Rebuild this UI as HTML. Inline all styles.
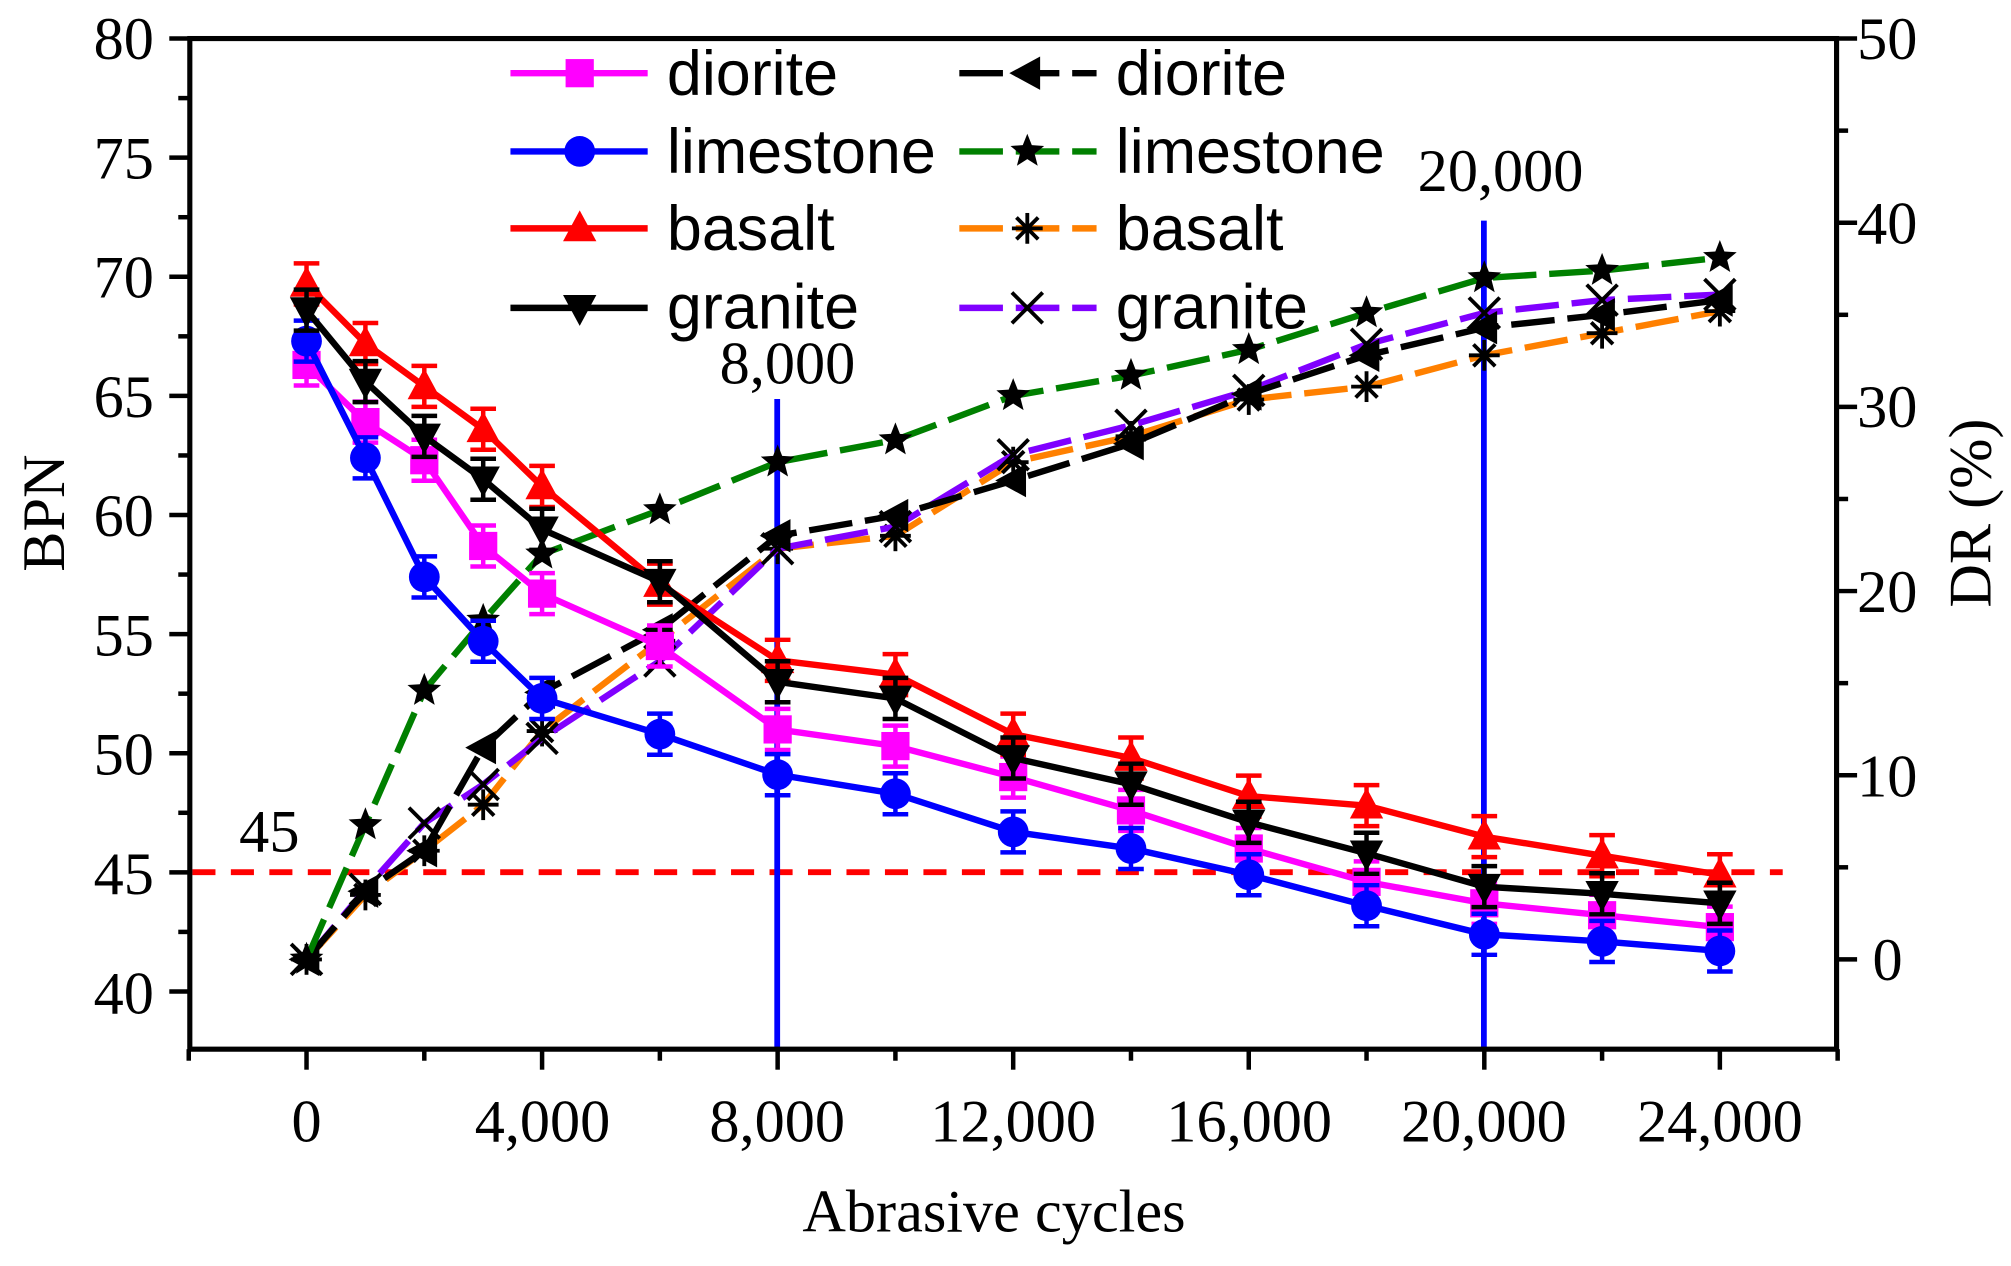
<!DOCTYPE html>
<html><head><meta charset="utf-8"><style>
html,body{margin:0;padding:0;background:#fff;}
svg{display:block;}
.t{font-family:"Liberation Serif",serif;font-size:47px;fill:#000;}
.l{font-family:"Liberation Sans",sans-serif;font-size:49px;fill:#000;}
</style></head><body>
<svg id="s" width="2011" height="1266" viewBox="0 0 1568 987" xmlns="http://www.w3.org/2000/svg">
<rect width="1568" height="987" fill="#fff"/>
<g id="g"></g>
<g class="t" text-anchor="end">
<text x="120" y="46">80</text><text x="120" y="139">75</text><text x="120" y="232">70</text>
<text x="120" y="325">65</text><text x="120" y="418">60</text><text x="120" y="511">55</text>
<text x="120" y="604">50</text><text x="120" y="697">45</text><text x="120" y="790">40</text>
</g>
<g class="t" text-anchor="start">
<text x="1448" y="46">50</text><text x="1448" y="190">40</text><text x="1448" y="333">30</text>
<text x="1448" y="477">20</text><text x="1448" y="621">10</text><text x="1460" y="764">0</text>
</g>
<g class="t" text-anchor="middle">
<text x="239" y="890">0</text><text x="423" y="890">4,000</text><text x="606" y="890">8,000</text>
<text x="790" y="890">12,000</text><text x="974" y="890">16,000</text><text x="1157" y="890">20,000</text>
<text x="1341" y="890">24,000</text>
<text x="775" y="960">Abrasive cycles</text>
<text x="614" y="299">8,000</text>
<text x="1170" y="149">20,000</text>
<text x="210" y="664">45</text>
<text transform="translate(50,400) rotate(-90)">BPN</text>
<text transform="translate(1552,400) rotate(-90)">DR (%)</text>
</g>
<g class="l">
<text x="520" y="74">diorite</text><text x="520" y="135">limestone</text>
<text x="520" y="195">basalt</text><text x="520" y="256">granite</text>
<text x="870" y="74">diorite</text><text x="870" y="135">limestone</text>
<text x="870" y="195">basalt</text><text x="870" y="256">granite</text>
</g>
</svg>
<script>
var g=document.getElementById('g'),NS='http://www.w3.org/2000/svg';
function el(t,a){var e=document.createElementNS(NS,t);for(var k in a)e.setAttribute(k,a[k]);g.appendChild(e);return e;}
var X=[0,1000,2000,3000,4000,6000,8000,10000,12000,14000,16000,18000,20000,22000,24000];
function px(x){return 239+x*1102/24000;}
function yl(v){return 773-(v-40)*18.575;}
function yr(v){return 748-v*14.36;}
el('line',{x1:150,y1:680,x2:1390,y2:680,stroke:'#f00','stroke-width':4.5,'stroke-dasharray':'18,12'});
el('line',{x1:606,y1:311,x2:606,y2:818,stroke:'#00f','stroke-width':4.5});
el('line',{x1:1157,y1:172,x2:1157,y2:818,stroke:'#00f','stroke-width':4.5});
function marker(type,x,y,c,s){s=s||12;
 if(type=='sq')el('rect',{x:x-s+1,y:y-s+1,width:2*s-2,height:2*s-2,fill:c});
 else if(type=='ci')el('circle',{cx:x,cy:y,r:s,fill:c});
 else if(type=='tu')el('polygon',{points:[x,y-s-2,x-s-1,y+s-2,x+s+1,y+s-2].join(','),fill:c});
 else if(type=='td')el('polygon',{points:[x,y+s+2,x-s-1,y-s+2,x+s+1,y-s+2].join(','),fill:c});
 else if(type=='tl')el('polygon',{points:[x-s-2,y,x+s-2,y-s-1,x+s-2,y+s+1].join(','),fill:c});
 else if(type=='st'){var p=[];for(var i=0;i<10;i++){var r=i%2?s*0.5:s*1.15,a=-Math.PI/2+i*Math.PI/5;p.push(x+r*Math.cos(a),y+r*Math.sin(a));}el('polygon',{points:p.join(','),fill:c});}
 else if(type=='as'){for(var i=0;i<4;i++){var a=i*Math.PI/4;el('line',{x1:x-s*Math.cos(a),y1:y-s*Math.sin(a),x2:x+s*Math.cos(a),y2:y+s*Math.sin(a),stroke:c,'stroke-width':3});}}
 else if(type=='x'){el('line',{x1:x-s,y1:y-s,x2:x+s,y2:y+s,stroke:c,'stroke-width':3});el('line',{x1:x-s,y1:y+s,x2:x+s,y2:y-s,stroke:c,'stroke-width':3});}
}
function series(vals,f,col,mk,mc,dash,err){
 var pts=vals.map(function(v,i){return [px(X[i]),f(v)];});
 el('polyline',{points:pts.map(function(p){return p.join(',')}).join(' '),fill:'none',stroke:col,'stroke-width':5,'stroke-dasharray':dash||'none'});
 pts.forEach(function(p){
  if(err){var e=16;el('line',{x1:p[0],y1:p[1]-e,x2:p[0],y2:p[1]+e,stroke:col,'stroke-width':3.5});
   el('line',{x1:p[0]-10,y1:p[1]-e,x2:p[0]+10,y2:p[1]-e,stroke:col,'stroke-width':3.5});
   el('line',{x1:p[0]-10,y1:p[1]+e,x2:p[0]+10,y2:p[1]+e,stroke:col,'stroke-width':3.5});}
  marker(mk,p[0],p[1],mc);
 });
}
series([0,3.5,5.9,8.4,12.4,17.3,22.3,23,27,28.4,30.4,31.1,32.8,34,35.2],yr,'#ff8000','as','#000','34,10');
series([0,3.8,7.4,9.5,12,16.2,22.3,23.5,27.4,29,30.9,33.4,35.1,35.8,36.1],yr,'#8000ff','x','#000','34,10');
series([0,3.7,5.9,11.5,14.5,17.9,23,24.1,26,28,30.7,32.8,34.3,35,35.8],yr,'#000','tl','#000','34,10');
series([0,7.3,14.6,18.4,22,24.4,27,28.2,30.6,31.7,33.1,35.1,37,37.4,38.1],yr,'#008000','st','#000','34,10');
series([66.3,63.9,62.3,58.7,56.7,54.5,51.0,50.3,49.0,47.6,46.0,44.6,43.7,43.2,42.7],yl,'#ff00ff','sq','#ff00ff',null,1);
series([67.3,62.4,57.4,54.7,52.3,50.8,49.1,48.3,46.7,46.0,44.9,43.6,42.4,42.1,41.7],yl,'#0000ff','ci','#0000ff',null,1);
series([69.7,67.2,65.4,63.6,61.2,57.1,53.9,53.3,50.8,49.8,48.2,47.8,46.5,45.7,44.9],yl,'#ff0000','tu','#ff0000',null,1);
series([68.6,65.6,63.3,61.5,59.4,57.2,53.0,52.3,49.8,48.7,47.1,45.8,44.4,44.1,43.7],yl,'#000','td','#000',null,1);
el('rect',{x:148,y:30,width:1284,height:788,fill:'none',stroke:'#000','stroke-width':4});
for(var v=40;v<=80;v+=2.5){var y=yl(v),maj=(v%5==0);el('line',{x1:148-(maj?16:9),y1:y,x2:148,y2:y,stroke:'#000','stroke-width':3.5});}
for(var v=-5;v<=50;v+=5){var y=yr(v),maj=(v%10==0);if(y<30||y>818)continue;el('line',{x1:1432,y1:y,x2:1432+(maj?16:9),y2:y,stroke:'#000','stroke-width':3.5});}
for(var v=-2000;v<=26000;v+=2000){var x=px(v),maj=(v%4000==0);el('line',{x1:x,y1:818,x2:x,y2:818+(maj?16:9),stroke:'#000','stroke-width':3.5});}
var L=[['#ff00ff','sq','#ff00ff',null],['#0000ff','ci','#0000ff',null],['#ff0000','tu','#ff0000',null],['#000','td','#000',null]];
var R=[['#000','tl','#000','34,10'],['#008000','st','#000','34,10'],['#ff8000','as','#000','34,10'],['#8000ff','x','#000','34,10']];
var ys=[57,118,178,240];
for(var i=0;i<4;i++){
 el('line',{x1:398,y1:ys[i],x2:505,y2:ys[i],stroke:L[i][0],'stroke-width':5});marker(L[i][1],452,ys[i],L[i][2]);
 el('line',{x1:748,y1:ys[i],x2:855,y2:ys[i],stroke:R[i][0],'stroke-width':5,'stroke-dasharray':R[i][3]});marker(R[i][1],801,ys[i],R[i][2]);
}
</script>
</body></html>
